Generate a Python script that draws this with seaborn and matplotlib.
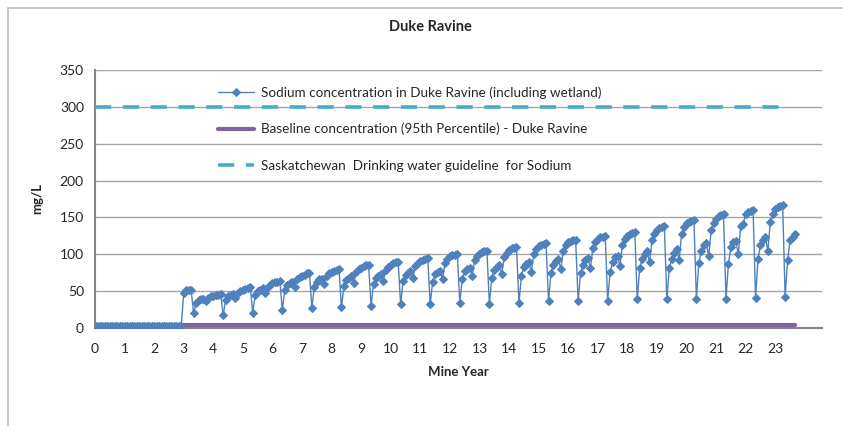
import matplotlib
matplotlib.use("Agg")
import matplotlib.pyplot as plt
from matplotlib.patches import Rectangle
import numpy as np
import pandas as pd
import seaborn as sns

# monthly sodium values (mg/L)
pre_mine = [3] * 36                     # years 0-3
startup = [48, 51, 52, 52]              # first months of year 3
seasonal_cycles = [                     # each starts with the spring drop at ~n.33
    [20, 34, 38, 39, 40, 36, 41, 43, 44, 45, 45, 46],
    [17, 38, 43, 45, 46, 41, 48, 50, 52, 53, 54, 55],
    [21, 45, 50, 52, 54, 48, 56, 59, 61, 62, 63, 64],
    [24, 52, 59, 61, 63, 56, 66, 69, 71, 72, 74, 75],
    [27, 56, 63, 66, 67, 60, 70, 74, 76, 77, 79, 80],
    [28, 57, 65, 68, 70, 61, 76, 80, 82, 84, 85, 86],
    [30, 60, 68, 71, 73, 64, 79, 83, 86, 88, 89, 90],
    [32, 64, 72, 75, 77, 68, 84, 88, 91, 92, 94, 95],
    [32, 63, 73, 76, 78, 67, 88, 93, 97, 99, 99, 100],
    [34, 66, 77, 80, 82, 71, 92, 98, 101, 103, 104, 105],
    [33, 68, 79, 83, 85, 73, 96, 102, 106, 108, 109, 110],
    [34, 70, 83, 87, 89, 76, 100, 107, 111, 113, 114, 115],
    [36, 74, 86, 91, 93, 80, 105, 112, 116, 118, 119, 120],
    [37, 74, 86, 92, 95, 81, 109, 116, 121, 123, 124, 125],
    [37, 76, 89, 96, 98, 84, 113, 121, 125, 128, 129, 130],
    [39, 81, 94, 101, 104, 89, 120, 128, 133, 136, 137, 138],
    [39, 81, 93, 102, 107, 92, 128, 137, 142, 144, 145, 146],
    [40, 88, 104, 112, 115, 97, 133, 143, 148, 152, 153, 154],
    [40, 87, 110, 116, 118, 100, 139, 141, 155, 157, 159, 160],
    [41, 94, 112, 120, 124, 104, 144, 154, 161, 164, 166, 167],
]
last_months = [42, 92, 119, 124, 127]

baseline_years = [0, 23.67]
baseline_value = [4, 4]
guideline_years = [0, 23.33]
guideline_value = [300, 300]

lbl_sodium = "Sodium concentration in Duke Ravine (including wetland)"
lbl_base = "Baseline concentration (95th Percentile) - Duke Ravine"
lbl_guide = "Saskatchewan  Drinking water guideline  for Sodium"

sodium = pre_mine + startup + [v for c in seasonal_cycles for v in c] + last_months
df = pd.DataFrame({"year": np.arange(len(sodium)) / 12.0, "sodium": sodium})

sns.set_style("white")
plt.rcParams["font.family"] = ["Lato", "DejaVu Sans"]

fig = plt.figure(figsize=(8.43, 4.26), dpi=100)
ax = fig.add_axes([95 / 843, 1 - 328 / 426, 727 / 843, 258 / 426])

# chart border (only left and top are inside the crop)
fig.patches.append(Rectangle((8 / 843, -0.1), 1.2, 1 - 8 / 426 + 0.1,
                             transform=fig.transFigure, fill=False,
                             edgecolor="#bfbfbf", lw=1.2))

sns.lineplot(data=df, x="year", y="sodium", ax=ax, color="#4F81BD", lw=1.0,
             marker="D", markersize=3.8, markeredgecolor="#4F81BD",
             label=lbl_sodium, zorder=4)
sns.lineplot(x=baseline_years, y=baseline_value, ax=ax, color="#8064A2",
             lw=3, label=lbl_base, zorder=3)
sns.lineplot(x=guideline_years, y=guideline_value, ax=ax, color="#4BACC6",
             lw=2.6, dashes=False, label=lbl_guide, zorder=3)
ax.lines[-1].set_dashes([4.5, 3.2])

ax.set_xlim(0, 24.58)
ax.set_ylim(0, 350)
ax.set_xticks(range(0, 24))
ax.set_yticks(range(0, 351, 50))
ax.tick_params(axis="both", labelsize=10, length=0)
ax.tick_params(axis="x", pad=11)
ax.tick_params(axis="y", pad=8)
ax.yaxis.grid(True, color="#a6a6a6", lw=1)
ax.set_axisbelow(True)
for s in ["top", "right"]:
    ax.spines[s].set_visible(False)
for s in ["left", "bottom"]:
    ax.spines[s].set_color("#868686")
    ax.spines[s].set_linewidth(1.5)

ax.set_xlabel("Mine Year", fontsize=9.5, fontweight="bold", labelpad=8)
ax.set_ylabel("mg/L", fontsize=9.5, fontweight="bold", labelpad=12)
fig.text(430 / 843, 1 - 27 / 426, "Duke Ravine", ha="center", va="center",
         fontsize=10.5, fontweight="bold")

ax.legend(loc="upper left", bbox_to_anchor=(123 / 727, 1 - 16 / 258),
          frameon=False, fontsize=9.7, handlelength=2.7, labelspacing=1.8,
          handletextpad=0.5, borderaxespad=0, borderpad=0)

fig.savefig("out.png", dpi=100)
